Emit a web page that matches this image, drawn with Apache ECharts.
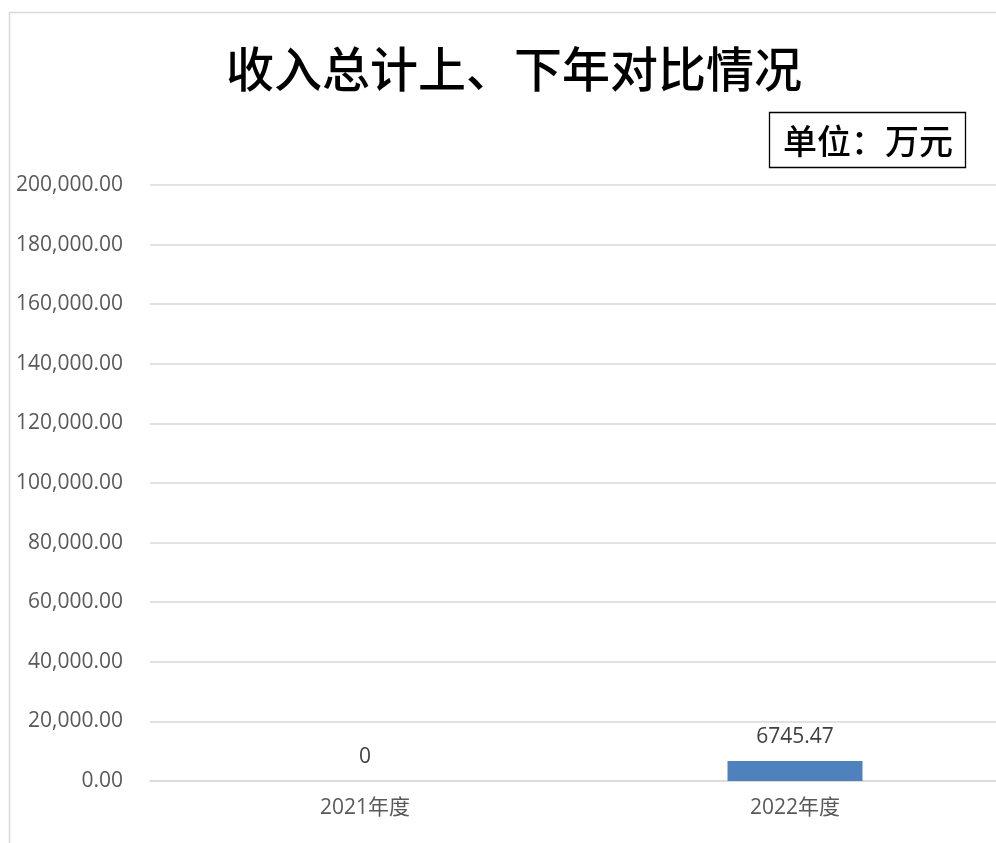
<!DOCTYPE html>
<html><head><meta charset="utf-8">
<script src="https://cdn.jsdelivr.net/npm/echarts@6/dist/echarts.min.js"></script>
<style>html,body{margin:0;padding:0;background:#fff;overflow:hidden}#c{width:1020px;height:843px}</style>
</head><body><div id="c"></div>
<script>
const categories = ['2021年度', '2022年度'];
const values = [0, 6745.47];
const labels = ['0', '6745.47'];
const titleText = '收入总计上、下年对比情况';
const unitText = '单位：万元';

const chart = echarts.init(document.getElementById('c'));
chart.setOption({
  animation: false,
  backgroundColor: '#fff',
  title: {
    text: titleText, left: 509, top: 40, textAlign: 'center',
    textStyle: { fontFamily: 'Noto Sans CJK SC', fontSize: 48, fontWeight: 500, color: '#000' }
  },
  graphic: [
    { type: 'rect', shape: { x: 9.5, y: 12.5, width: 1100, height: 1000 }, style: { fill: 'none', stroke: '#d9d9d9', lineWidth: 1.5 }, z: -1 },
    { type: 'rect', shape: { x: 769.5, y: 112.5, width: 196, height: 55 }, style: { fill: '#fff', stroke: '#000', lineWidth: 1.3 } },
    { type: 'text', x: 868, y: 141, style: { text: unitText, fontFamily: 'Noto Sans CJK SC', fontSize: 34, fontWeight: 500, fill: '#000', align: 'center', verticalAlign: 'middle' } }
  ],
  grid: { left: 150, top: 185, width: 860, height: 596 },
  xAxis: {
    type: 'category', data: categories,
    axisLine: { show: true, lineStyle: { color: '#d9d9d9', width: 1.5 } },
    axisTick: { show: false },
    axisLabel: { color: '#595959', fontSize: 21, fontFamily: 'Open Sans, Noto Sans CJK SC', margin: 17 }
  },
  yAxis: {
    type: 'value', min: 0, max: 200000, interval: 20000,
    axisLine: { show: false }, axisTick: { show: false },
    splitLine: { lineStyle: { color: '#d9d9d9', width: 1.5 } },
    axisLabel: {
      color: '#595959', fontSize: 21, fontFamily: 'Open Sans', margin: 27,
      formatter: v => v.toLocaleString('en-US', { minimumFractionDigits: 2, maximumFractionDigits: 2 })
    }
  },
  series: [{
    type: 'bar', data: values, barWidth: 135,
    itemStyle: { color: '#4f81bd' },
    label: {
      show: true, position: 'top', distance: 13, color: '#404040', fontSize: 21, fontFamily: 'Open Sans',
      formatter: p => labels[p.dataIndex]
    }
  }]
});
</script></body></html>
